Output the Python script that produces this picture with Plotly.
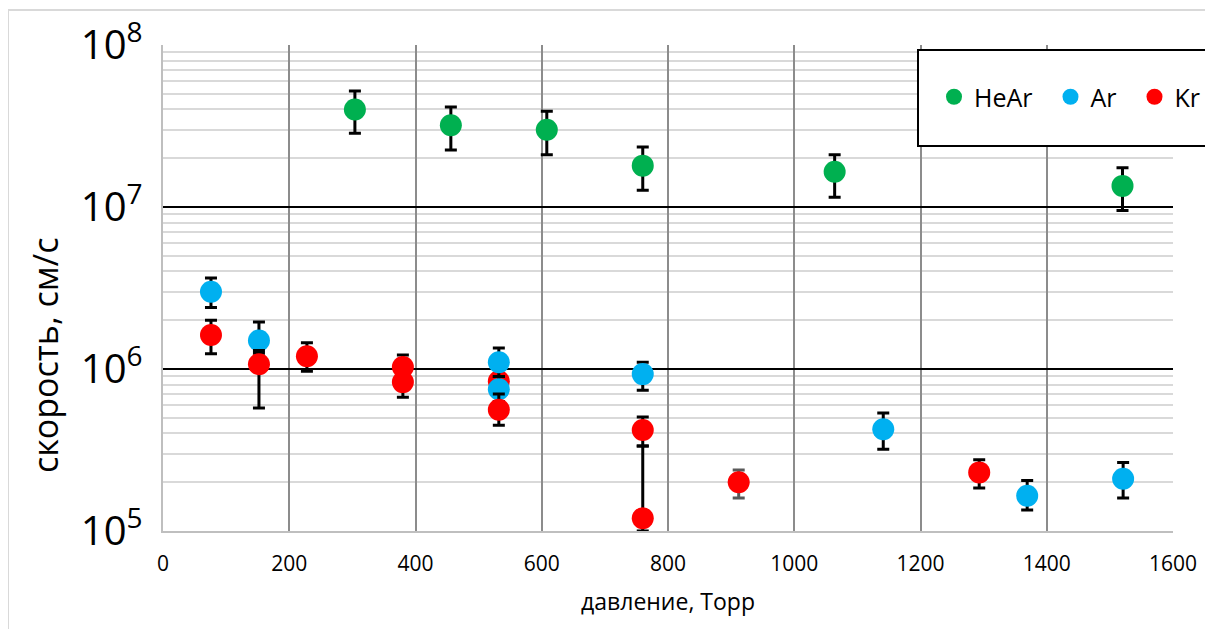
import plotly.graph_objects as go

# ---- data ----
hear_x = [304, 456, 608, 760, 1064, 1520]
hear_y = [4.0e7, 3.2e7, 3.0e7, 1.8e7, 1.65e7, 1.35e7]
hear_hi = [5.2e7, 4.15e7, 3.9e7, 2.35e7, 2.1e7, 1.75e7]
hear_lo = [2.85e7, 2.25e7, 2.1e7, 1.27e7, 1.15e7, 9.5e6]

ar_x = [76, 152, 532, 532, 760, 1141, 1369, 1521]
ar_y = [3.0e6, 1.5e6, 1.1e6, 7.5e5, 9.3e5, 4.25e5, 1.65e5, 2.1e5]
ar_hi = [3.65e6, 1.95e6, 1.35e6, 9.0e5, 1.1e6, 5.35e5, 2.05e5, 2.65e5]
ar_lo = [2.4e6, 1.25e6, 9.0e5, 6.3e5, 7.4e5, 3.2e5, 1.35e5, 1.6e5]

kr_x = [76, 152, 228, 380, 380, 532, 760, 760, 1293]
kr_y = [1.62e6, 1.07e6, 1.2e6, 1.03e6, 8.3e5, 5.6e5, 4.2e5, 1.2e5, 2.3e5]
kr_hi = [2.0e6, 1.3e6, 1.45e6, 1.22e6, 8.3e5, 7.0e5, 5.05e5, 3.35e5, 2.75e5]
kr_lo = [1.24e6, 5.75e5, 9.7e5, 1.03e6, 6.7e5, 4.5e5, 3.35e5, 1.0e5, 1.84e5]

# Kr point at 912 Torr (drawn with grey error caps in the reference)
kr_grey_x = [912]
kr_grey_y = [2.0e5]
kr_grey_hi = [2.38e5]
kr_grey_lo = [1.6e5]

# Kr point partly hidden behind the Ar markers at 532 Torr
kr_hidden_x = [532]
kr_hidden_y = [8.4e5]

x_ticks = [0, 200, 400, 600, 800, 1000, 1200, 1400, 1600]

GREEN = "#00b050"
BLUE = "#00b0f0"
RED = "#ff0000"
FONT = "Open Sans"
NB = "\u00a0"


def err(y, hi, lo, color="black"):
    return dict(
        type="data",
        symmetric=False,
        array=[h - v for h, v in zip(hi, y)],
        arrayminus=[v - l for v, l in zip(y, lo)],
        color=color,
        thickness=3,
        width=6,
    )


fig = go.Figure()
fig.add_trace(go.Scatter(
    x=hear_x, y=hear_y, mode="markers", name="HeAr" + NB * 2,
    marker=dict(color=GREEN, size=22),
    error_y=err(hear_y, hear_hi, hear_lo),
))
fig.add_trace(go.Scatter(
    x=kr_hidden_x, y=kr_hidden_y, mode="markers", name="Kr",
    legendgroup="Kr", showlegend=False,
    marker=dict(color=RED, size=22),
))
fig.add_trace(go.Scatter(
    x=ar_x, y=ar_y, mode="markers", name="Ar" + NB * 2,
    marker=dict(color=BLUE, size=22),
    error_y=err(ar_y, ar_hi, ar_lo),
))
fig.add_trace(go.Scatter(
    x=kr_grey_x, y=kr_grey_y, mode="markers", name="Kr",
    legendgroup="Kr", showlegend=False,
    marker=dict(color=RED, size=22),
    error_y=err(kr_grey_y, kr_grey_hi, kr_grey_lo, color="#595959"),
))
fig.add_trace(go.Scatter(
    x=kr_x, y=kr_y, mode="markers", name="Kr", legendgroup="Kr",
    marker=dict(color=RED, size=22),
    error_y=err(kr_y, kr_hi, kr_lo),
))

# page offset (default body margin) and plot-area geometry in screen px
OFF = 8
SL, SR, ST, SB = 163, 1173, 45, 531
L, R, T, B = SL - OFF, SR - OFF, ST - OFF, SB - OFF
W, H = R - L, B - T
FW, FH = 1213 - 2 * OFF, 637 - 2 * OFF   # fit inside the page: no scrollbars


def px(xs):
    return (xs - SL) / W


def py(ys):
    return (SB - ys) / H


fig.update_layout(
    width=FW, height=FH,
    margin=dict(l=L, r=FW - R, t=T, b=FH - B, autoexpand=False),
    paper_bgcolor="white", plot_bgcolor="white",
    font=dict(family=FONT, color="black"),
    showlegend=True,
    legend=dict(
        orientation="h", x=px(934), y=py(97), xanchor="left", yanchor="middle",
        bgcolor="rgba(0,0,0,0)", borderwidth=0,
        font=dict(size=25, family=FONT),
        itemsizing="trace",
    ),
    xaxis=dict(
        range=[0, 1600], tickvals=x_ticks,
        showgrid=True, gridcolor="#8c8c8c", gridwidth=2,
        showline=True, linecolor="#bfbfbf", linewidth=2, mirror=False,
        zeroline=False, ticks="",
        tickfont=dict(size=21),
        ticklabelstandoff=13,
        title=dict(text="давление, Торр", font=dict(size=23), standoff=18),
    ),
    yaxis=dict(
        type="log", range=[5, 8], dtick=1, exponentformat="power",
        showgrid=True, gridcolor="black", gridwidth=2,
        showline=True, linecolor="#bfbfbf", linewidth=2,
        zeroline=False, ticks="",
        tickfont=dict(size=32),
        ticklabelstandoff=12,
        minor=dict(dtick="D1", showgrid=True, gridcolor="#d9d9d9", gridwidth=2, ticks=""),
    ),
    shapes=[
        # outer chart frame
        dict(type="rect", xref="paper", yref="paper",
             x0=px(8), x1=px(1240), y0=py(660), y1=py(10),
             line=dict(color="#d9d9d9", width=2), fillcolor="rgba(0,0,0,0)", layer="below"),
        # legend box
        dict(type="rect", xref="paper", yref="paper",
             x0=px(918), x1=px(1240), y0=py(146), y1=py(50),
             line=dict(color="black", width=2), fillcolor="white", layer="above"),
    ],
    annotations=[
        dict(text="скорость, см/с", xref="paper", yref="paper",
             x=px(45), y=py(355), textangle=-90, showarrow=False,
             font=dict(size=34, family=FONT), xanchor="center", yanchor="middle"),
    ],
)

fig.write_html("out.html")
